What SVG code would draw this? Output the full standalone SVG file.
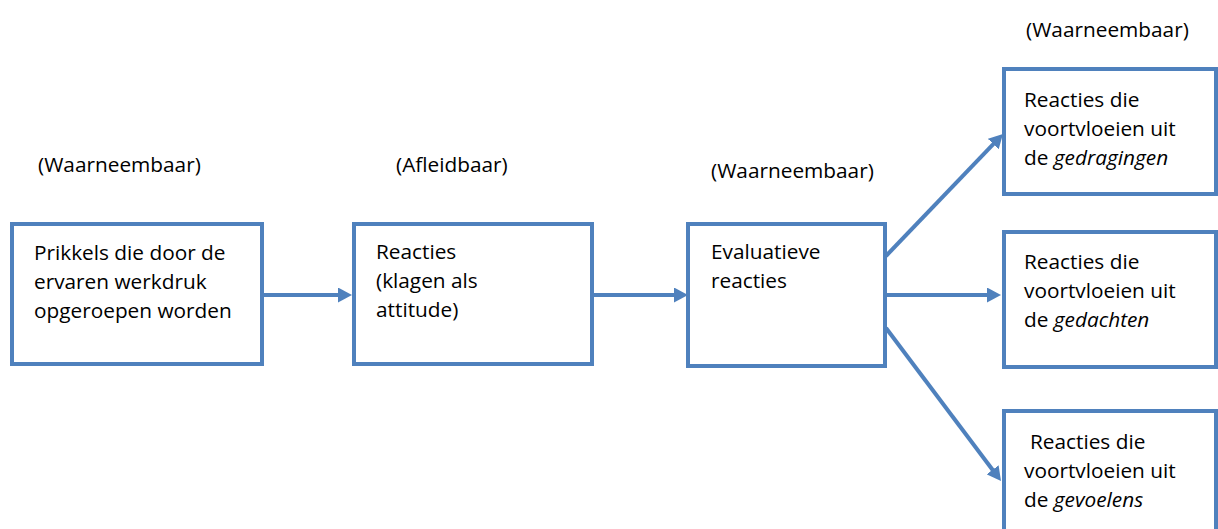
<svg xmlns="http://www.w3.org/2000/svg" width="1218" height="529" viewBox="0 0 1218 529">
<style>
.box{fill:#fff;stroke:#4F81BD;stroke-width:4;}
.t{font-family:"Open Sans","Liberation Sans",sans-serif;font-size:20.8px;fill:#000;}
.c{stroke:#4F81BD;stroke-width:4;fill:none;marker-end:url(#ah);}
</style>
<defs>
<marker id="ah" markerUnits="userSpaceOnUse" viewBox="0 0 14 15" markerWidth="14" markerHeight="15" refX="8" refY="7.5" orient="auto">
<path d="M0,0 L14,7.5 L0,15 z" fill="#4F81BD"/>
</marker>
</defs>
<rect width="1218" height="529" fill="#fff"/>
<g id="labels">
<text class="t" x="38" y="172">(Waarneembaar)</text>
<text class="t" x="396" y="172">(Afleidbaar)</text>
<text class="t" x="711" y="178">(Waarneembaar)</text>
<text class="t" x="1026" y="37">(Waarneembaar)</text>
</g>
<g id="connectors">
<line class="c" x1="264" y1="295" x2="346" y2="295"/>
<line class="c" x1="592" y1="295" x2="682" y2="295"/>
<line class="c" x1="886" y1="295" x2="995" y2="295"/>
<line class="c" x1="886" y1="256" x2="998.8" y2="138.3"/>
<line class="c" x1="886" y1="328" x2="997.4" y2="476.2"/>
</g>
<g id="n1">
<rect class="box" x="12" y="224" width="250" height="140"/>
<text class="t" x="34" y="260">Prikkels die door de</text>
<text class="t" x="34" y="289">ervaren werkdruk</text>
<text class="t" x="34" y="318">opgeroepen worden</text>
</g>
<g id="n2">
<rect class="box" x="354" y="224" width="238" height="140"/>
<text class="t" x="376" y="259">Reacties</text>
<text class="t" x="376" y="288">(klagen als</text>
<text class="t" x="376" y="317">attitude)</text>
</g>
<g id="n3">
<rect class="box" x="688" y="224" width="197" height="142"/>
<text class="t" x="711" y="259">Evaluatieve</text>
<text class="t" x="711" y="288">reacties</text>
</g>
<g id="n4">
<rect class="box" x="1004" y="69" width="212" height="125"/>
<text class="t" x="1024" y="107">Reacties die</text>
<text class="t" x="1024" y="136">voortvloeien uit</text>
<text class="t" x="1024" y="165">de <tspan font-style="italic">gedragingen</tspan></text>
</g>
<g id="n5">
<rect class="box" x="1004" y="232" width="212" height="135"/>
<text class="t" x="1024" y="269">Reacties die</text>
<text class="t" x="1024" y="298">voortvloeien uit</text>
<text class="t" x="1024" y="327">de <tspan font-style="italic">gedachten</tspan></text>
</g>
<g id="n6">
<rect class="box" x="1004" y="411" width="212" height="130"/>
<text class="t" x="1030" y="449">Reacties die</text>
<text class="t" x="1024" y="478">voortvloeien uit</text>
<text class="t" x="1024" y="507">de <tspan font-style="italic">gevoelens</tspan></text>
</g>
</svg>
